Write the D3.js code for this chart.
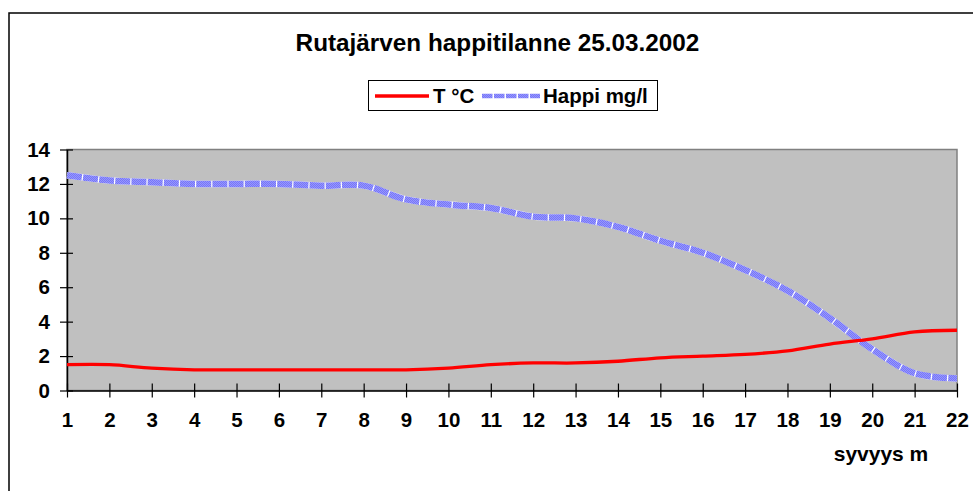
<!DOCTYPE html>
<html>
<head>
<meta charset="utf-8">
<script src="https://cdn.jsdelivr.net/npm/d3@7"></script>
<style>
  body { margin: 0; background: #fff; }
  svg { display: block; font-family: "Liberation Sans", Arial, sans-serif; font-weight: bold; }
</style>
</head>
<body>
<div id="chart"></div>
<script>
// Rutajärvi, 25.03.2002: temperature and oxygen by depth
const depths = ["1","2","3","4","5","6","7","8","9","10","11","12","13","14","15","16","17","18","19","20","21","22"];
const temperature = [1.5, 1.5, 1.3, 1.2, 1.2, 1.2, 1.2, 1.2, 1.2, 1.3, 1.5, 1.6, 1.6, 1.7, 1.9, 2.0, 2.1, 2.3, 2.7, 3.0, 3.4, 3.5];
const oxygen = [12.5, 12.2, 12.1, 12.0, 12.0, 12.0, 11.9, 11.9, 11.1, 10.8, 10.6, 10.1, 10.0, 9.5, 8.7, 8.0, 7.0, 5.8, 4.2, 2.4, 1.0, 0.7];
const yTicks = [0, 2, 4, 6, 8, 10, 12, 14];
const seriesNames = ["T °C", "Happi mg/l"];

const W = 973, H = 491;
const MARGIN = { TOP: 149.5, LEFT: 67, RIGHT: 16, BOTTOM: 100.5 };

const svg = d3.select("#chart").append("svg")
  .attr("width", W)
  .attr("height", H);

// checkered fill used for the oxygen line
const defs = svg.append("defs");
const pat = defs.append("pattern")
  .attr("id", "check")
  .attr("width", 2).attr("height", 2)
  .attr("patternUnits", "userSpaceOnUse");
pat.append("rect").attr("width", 2).attr("height", 2).attr("fill", "#9a9af6");
pat.append("rect").attr("width", 1).attr("height", 1).attr("fill", "#7373ff");
pat.append("rect").attr("x", 1).attr("y", 1).attr("width", 1).attr("height", 1).attr("fill", "#7373ff");

// outer chart frame (runs off the page at right and bottom)
svg.append("rect")
  .attr("x", 9).attr("y", 13)
  .attr("width", 1200).attr("height", 1000)
  .attr("fill", "none")
  .attr("stroke", "#000")
  .attr("stroke-width", 1.5);

const x = d3.scalePoint()
  .domain(depths)
  .range([MARGIN.LEFT, W - MARGIN.RIGHT]);

const y = d3.scaleLinear()
  .domain([0, 14])
  .range([H - MARGIN.BOTTOM, MARGIN.TOP]);

// plot area
svg.append("rect")
  .attr("x", x.range()[0])
  .attr("y", y(14))
  .attr("width", x.range()[1] - x.range()[0])
  .attr("height", y(0) - y(14))
  .attr("fill", "#c0c0c0")
  .attr("stroke", "#808080")
  .attr("stroke-width", 1.5);

// axes
const yAxis = svg.append("g")
  .attr("transform", `translate(${x.range()[0]},0)`)
  .call(d3.axisLeft(y).tickValues(yTicks).tickSize(7).tickPadding(10).tickSizeOuter(0));
yAxis.selectAll(".tick line").attr("x1", 6);

const xAxis = svg.append("g")
  .attr("transform", `translate(0,${y(0)})`)
  .call(d3.axisBottom(x).tickSize(7).tickPadding(15).tickSizeOuter(0));
xAxis.selectAll(".tick line").attr("y1", -7);

svg.selectAll(".domain").attr("stroke", "#000").attr("stroke-width", 1.5);
svg.selectAll(".tick line").attr("stroke", "#000").attr("stroke-width", 1.2);
svg.selectAll(".tick text")
  .attr("fill", "#000")
  .style("font-family", "Liberation Sans, Arial, sans-serif")
  .style("font-weight", "bold")
  .style("font-size", "20.5px");

// lines
const line = (vals) => d3.line()
  .x((d, i) => x(depths[i]))
  .y(d => y(d))
  .curve(d3.curveCatmullRom.alpha(0.5))(vals);

svg.append("path")
  .attr("d", line(oxygen))
  .attr("fill", "none")
  .attr("stroke", "#ffffff")
  .attr("stroke-width", 6.5);
svg.append("path")
  .attr("d", line(oxygen))
  .attr("fill", "none")
  .attr("stroke", "url(#check)")
  .attr("stroke-width", 6.5)
  .attr("stroke-dasharray", "15,1.2");

svg.append("path")
  .attr("d", line(temperature))
  .attr("fill", "none")
  .attr("stroke", "#ff0000")
  .attr("stroke-width", 3.3);

// title
svg.append("text")
  .attr("x", 497.5)
  .attr("y", 51)
  .attr("text-anchor", "middle")
  .style("font-size", "24.3px")
  .text("Rutajärven happitilanne 25.03.2002");

// legend
const legend = svg.append("g");
legend.append("rect")
  .attr("x", 368.5).attr("y", 80.5)
  .attr("width", 289).attr("height", 30)
  .attr("fill", "#fff")
  .attr("stroke", "#000")
  .attr("stroke-width", 1);
legend.append("line")
  .attr("x1", 375).attr("x2", 429)
  .attr("y1", 96).attr("y2", 96)
  .attr("stroke", "#ff0000")
  .attr("stroke-width", 3.3);
legend.append("line")
  .attr("x1", 482).attr("x2", 540)
  .attr("y1", 96).attr("y2", 96)
  .attr("stroke", "url(#check)")
  .attr("stroke-width", 4.5)
  .attr("stroke-dasharray", "10.5,1.5");
legend.append("text")
  .attr("x", 433).attr("y", 103)
  .style("font-size", "20.5px")
  .text(seriesNames[0]);
legend.append("text")
  .attr("x", 543).attr("y", 103)
  .style("font-size", "20.5px")
  .text(seriesNames[1]);

// axis title
svg.append("text")
  .attr("x", 881)
  .attr("y", 461)
  .attr("text-anchor", "middle")
  .style("font-size", "21px")
  .text("syvyys m");
</script>
</body>
</html>
